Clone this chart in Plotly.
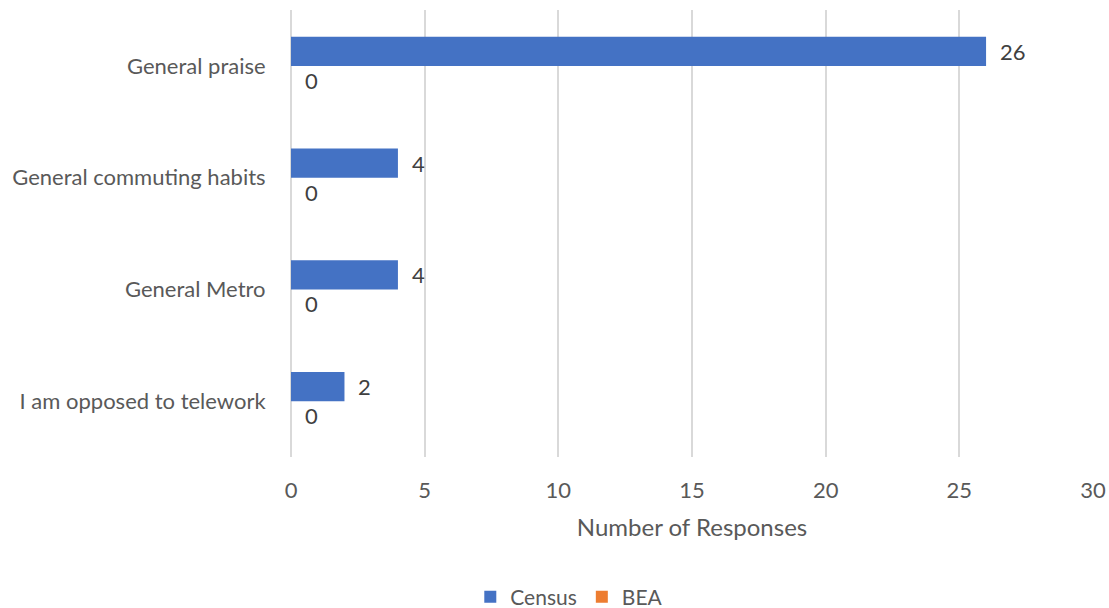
import plotly.graph_objects as go

categories = ["General praise", "General commuting habits", "General Metro", "I am opposed to telework"]
census = [26, 4, 4, 2]
bea = [0, 0, 0, 0]
series_names = ["Census", "BEA"]
colors = ["#4472C4", "#ED7D31"]
x_ticks = [0, 5, 10, 15, 20, 25, 30]

FONT = "Lato"
TXT = "#595959"
FS = 22

fig = go.Figure()
for name, vals, col in zip(series_names, [census, bea], colors):
    fig.add_trace(go.Bar(
        y=categories, x=vals, name=name, orientation="h",
        marker=dict(color=col, line=dict(width=0)),
    ))

annotations = []
for vals, shift in zip([census, bea], [14.5, -14.5]):
    for c, v in zip(categories, vals):
        annotations.append(dict(
            x=v, y=c, xref="x", yref="y", text=str(v), showarrow=False,
            xanchor="left", yanchor="middle", xshift=12, yshift=shift,
            font=dict(family=FONT, size=FS, color="#404040"),
        ))

fig.update_layout(
    width=1109, height=608,
    margin=dict(l=291, r=16, t=10, b=151),
    paper_bgcolor="white", plot_bgcolor="white",
    barmode="group", bargap=0.48, bargroupgap=0,
    font=dict(family=FONT, size=FS, color=TXT),
    annotations=annotations,
    legend=dict(orientation="h", x=0.347, xanchor="center", y=0.018, yref="container",
                yanchor="middle", font=dict(family=FONT, size=21, color=TXT),
                itemwidth=30, tracegroupgap=0),
    showlegend=True,
)
fig.update_xaxes(
    range=[0, 30], tickvals=x_ticks, showgrid=True, gridcolor="#D9D9D9", gridwidth=1.5,
    zeroline=True, zerolinecolor="#D9D9D9", zerolinewidth=1.5, showline=False,
    ticks="outside", ticklen=14, tickcolor="rgba(0,0,0,0)", automargin=False,
    title=dict(text="Number of Responses", standoff=16, font=dict(family=FONT, size=24, color=TXT)),
    tickfont=dict(family=FONT, size=FS, color=TXT),
)
fig.update_yaxes(
    autorange="reversed", showgrid=False, zeroline=False, showline=False,
    ticks="outside", ticklen=20, tickcolor="rgba(0,0,0,0)", automargin=False,
    tickfont=dict(family=FONT, size=FS, color=TXT),
)
fig.write_html("out.html")
